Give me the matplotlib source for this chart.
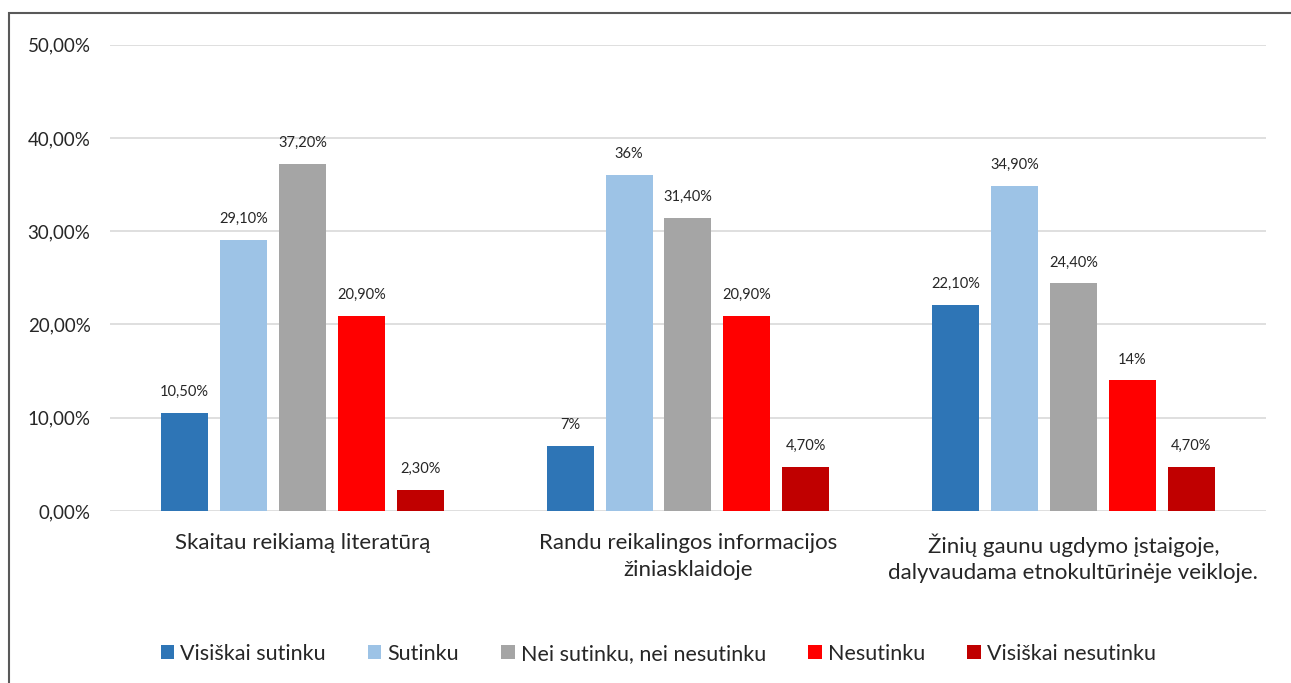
import numpy as np
import matplotlib
matplotlib.use("Agg")
import matplotlib.pyplot as plt
from matplotlib.patches import Rectangle

plt.rcParams['font.family'] = ['Lato', 'DejaVu Sans']

categories = ["Skaitau reikiamą literatūrą",
              "Randu reikalingos informacijos\nžiniasklaidoje",
              "Žinių gaunu ugdymo įstaigoje,\ndalyvaudama etnokultūrinėje veikloje."]
series = ["Visiškai sutinku", "Sutinku", "Nei sutinku, nei nesutinku",
          "Nesutinku", "Visiškai nesutinku"]
values = [
    [10.5, 7.0, 22.1],
    [29.1, 36.0, 34.9],
    [37.2, 31.4, 24.4],
    [20.9, 20.9, 14.0],
    [2.3, 4.7, 4.7],
]
labels = [
    ["10,50%", "7%", "22,10%"],
    ["29,10%", "36%", "34,90%"],
    ["37,20%", "31,40%", "24,40%"],
    ["20,90%", "20,90%", "14%"],
    ["2,30%", "4,70%", "4,70%"],
]
colors = ["#2E75B6", "#9DC3E6", "#A5A5A5", "#FF0000", "#C00000"]
yticks = [0, 10, 20, 30, 40, 50]
ytick_labels = ["0,00%", "10,00%", "20,00%", "30,00%", "40,00%", "50,00%"]

fig = plt.figure(figsize=(12.91, 6.83), dpi=100)
ax = fig.add_axes([0.0852, 0.2518, 0.8954, 0.6828])

x = np.arange(len(categories))
width = 0.122
pitch = 0.153
for i, (s, vals, labs, c) in enumerate(zip(series, values, labels, colors)):
    pos = x + (i - 2) * pitch
    bars = ax.bar(pos, vals, width=width, color=c, label=s, zorder=3)
    for b, lab in zip(bars, labs):
        ax.annotate(lab, (b.get_x() + b.get_width() / 2, b.get_height()),
                    xytext=(0, 15), textcoords="offset points",
                    ha="center", va="center", fontsize=10.5, color="#262626")

ax.set_xlim(-0.5, 2.5)
ax.set_ylim(0, 50)
ax.set_yticks(yticks)
ax.set_yticklabels(ytick_labels)
ax.set_xticks(x)
ax.set_xticklabels(categories)
ax.tick_params(axis="y", length=0, pad=14, labelsize=13.5, labelcolor="#262626")
ax.tick_params(axis="x", length=0, pad=16, labelsize=16, labelcolor="#262626")
for lbl in ax.get_xticklabels():
    lbl.set_verticalalignment("top")
    lbl.set_linespacing(1.4)
ax.yaxis.grid(True, color="#D9D9D9", linewidth=1.2, zorder=0)
for sp in ax.spines.values():
    sp.set_visible(False)

fig.legend(loc="center", bbox_to_anchor=(0.51, 0.043), ncol=5, frameon=False,
           fontsize=15.5, handlelength=0.62, handleheight=0.62,
           handletextpad=0.3, columnspacing=1.95, labelcolor="#262626")

fig.patches.append(Rectangle((9 / 1291, -0.1), 1.1, 1 - 13 / 683 + 0.1,
                             transform=fig.transFigure, fill=False,
                             edgecolor="#595959", linewidth=1.5))

fig.savefig("out.png", dpi=100)
